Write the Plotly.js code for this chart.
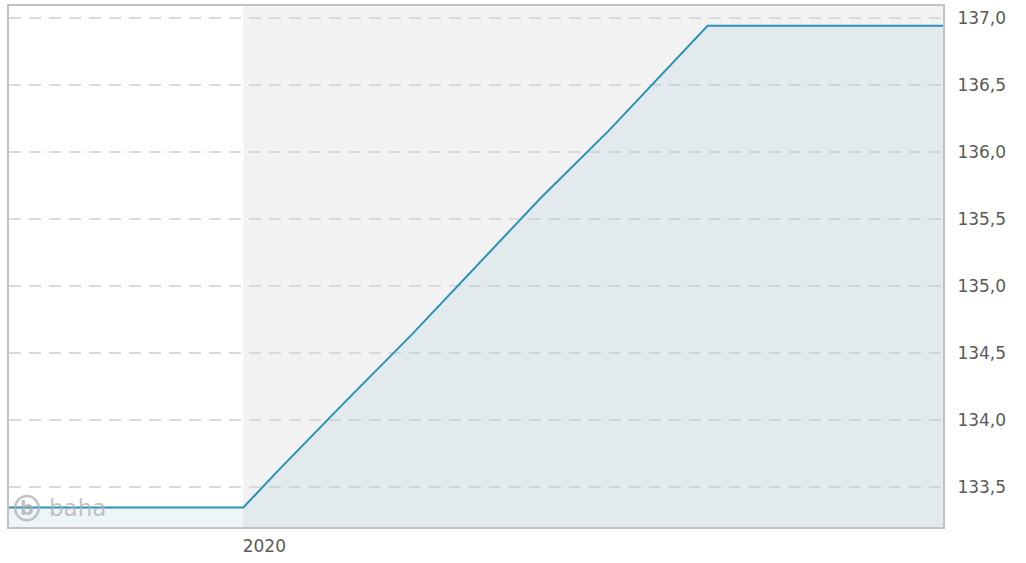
<!DOCTYPE html>
<html>
<head>
<meta charset="utf-8">
<script src="https://cdn.plot.ly/plotly-3.0.1.min.js"></script>
<style>html,body{margin:0;padding:0;background:#fff;}#chart{width:1026px;height:563px;}</style>
</head>
<body>
<div id="chart"></div>
<script>
// Data
const dates = ['2019-09-16','2020-01-01','2020-01-16','2020-02-16','2020-03-18','2020-04-17','2020-05-16','2020-06-16','2020-07-17','2020-07-31','2020-11-15 12:00'];
const values = [133.35,133.35,133.61,134.13,134.64,135.16,135.66,136.16,136.70,136.94,136.94];
const xRange = ['2019-09-16','2020-11-15 12:00'];
const yRange = [133.205, 137.087];
const shadeStart = '2020-01-01';
const xTickVals = ['2020-01-01'];
const xTickText = ['2020'];
const yTickVals = [133.5,134.0,134.5,135.0,135.5,136.0,136.5,137.0];

const trace = {
  x: dates, y: values, type: 'scatter', mode: 'lines',
  line: {color: '#2992b7', width: 2},
  fill: 'tozeroy', fillcolor: 'rgba(145,190,209,0.154)',
  hoverinfo: 'skip'
};

const layout = {
  width: 1026, height: 563,
  margin: {l: 9, r: 83, t: 6, b: 36, pad: 0},
  paper_bgcolor: '#ffffff', plot_bgcolor: '#ffffff',
  separators: ',.',
  showlegend: false,
  font: {family: 'DejaVu Sans, Verdana, sans-serif', size: 17, color: '#5a5a5a'},
  xaxis: {
    type: 'date', range: xRange, tickvals: xTickVals, ticktext: xTickText,
    showgrid: false, zeroline: false, ticks: '', ticklabelshift: 21, ticklabelstandoff: 3,
    showline: true, linecolor: '#c2c2c2', linewidth: 2, mirror: true,
    fixedrange: true
  },
  yaxis: {
    side: 'right', range: yRange, tickvals: yTickVals, tickformat: '.1f',
    showgrid: true, gridcolor: '#dadada', gridwidth: 2, griddash: '12px,8px',
    zeroline: false, ticks: '', ticklabelstandoff: 9,
    showline: true, linecolor: '#c2c2c2', linewidth: 2, mirror: true,
    fixedrange: true
  },
  shapes: [
    {type: 'rect', xref: 'x', yref: 'paper', x0: shadeStart, x1: xRange[1], y0: 0, y1: 1,
     fillcolor: '#f2f2f2', line: {width: 0}, layer: 'below'},
    {type: 'circle', xref: 'paper', yref: 'paper', x0: 0.0066, x1: 0.0318, y0: 0.013, y1: 0.0595,
     line: {color: 'rgba(175,175,175,0.75)', width: 2.5}, fillcolor: 'rgba(0,0,0,0)', layer: 'above'}
  ],
  annotations: [
    {xref: 'paper', yref: 'paper', x: 0.0192, y: 0.037, text: '<b>b</b>', showarrow: false,
     xanchor: 'center', yanchor: 'middle', font: {family: 'DejaVu Sans', size: 19, color: 'rgba(175,175,175,0.8)'}},
    {xref: 'paper', yref: 'paper', x: 0.041, y: 0.037, text: 'baha', showarrow: false,
     xanchor: 'left', yanchor: 'middle', font: {family: 'DejaVu Sans', size: 23, color: 'rgba(175,175,175,0.75)'}}
  ]
};

Plotly.newPlot('chart', [trace], layout, {displayModeBar: false, staticPlot: true});
</script>
</body>
</html>
